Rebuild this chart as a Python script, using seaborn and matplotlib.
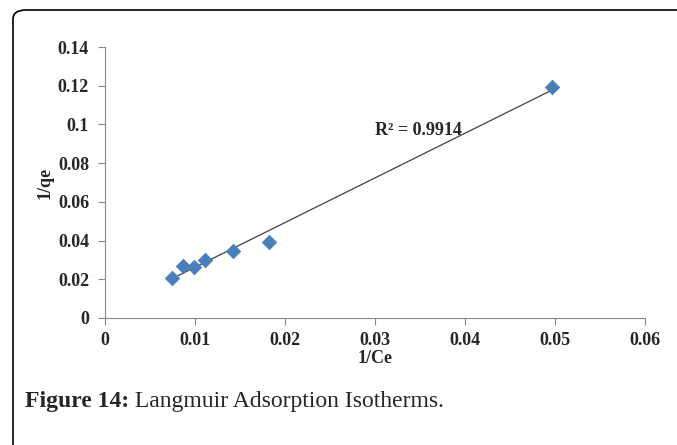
import numpy as np
import pandas as pd
import seaborn as sns
import matplotlib
matplotlib.use("Agg")
import matplotlib.pyplot as plt
from matplotlib.patches import FancyBboxPatch

inv_ce = [0.00744, 0.00867, 0.00989, 0.0111, 0.0142, 0.0182, 0.0497]
inv_qe = [0.0207, 0.0269, 0.0263, 0.0300, 0.0346, 0.0393, 0.1193]
x_ticks = [0, 0.01, 0.02, 0.03, 0.04, 0.05, 0.06]
x_tick_labels = ["0", "0.01", "0.02", "0.03", "0.04", "0.05", "0.06"]
y_ticks = [0, 0.02, 0.04, 0.06, 0.08, 0.1, 0.12, 0.14]
y_tick_labels = ["0", "0.02", "0.04", "0.06", "0.08", "0.1", "0.12", "0.14"]
r2_text = "R² = 0.9914"
caption_bold = "Figure 14:"
caption_rest = " Langmuir Adsorption Isotherms."

df = pd.DataFrame({"x": inv_ce, "y": inv_qe})

sns.set_theme(style="white")
plt.rcParams["font.family"] = ["Liberation Serif", "DejaVu Serif"]

fig = plt.figure(figsize=(6.77, 4.45), dpi=100)
ax = fig.add_axes([105 / 677, 1 - 318 / 445, 540 / 677, 271 / 445])

sns.regplot(data=df, x="x", y="y", scatter=False, ci=None, truncate=True,
            line_kws={"color": "#404040", "lw": 0.9}, ax=ax)
sns.scatterplot(data=df, x="x", y="y", marker="D", s=55, color="#4a7ebb",
                edgecolor="#4a7ebb", linewidth=0.5, zorder=3, ax=ax)

fs = 13
ax.set_xlim(0, 0.06)
ax.set_ylim(0, 0.14)
ax.set_xticks(x_ticks)
ax.set_xticklabels(x_tick_labels, fontweight="bold", fontsize=fs)
ax.set_yticks(y_ticks)
ax.set_yticklabels(y_tick_labels, fontweight="bold", fontsize=fs)
ax.tick_params(axis="both", which="both", length=5, width=0.8, color="#888888",
               direction="out", bottom=True, left=True)
ax.tick_params(axis="y", pad=6.5)
ax.tick_params(axis="x", pad=5)
for s in ["top", "right"]:
    ax.spines[s].set_visible(False)
for s in ["left", "bottom"]:
    ax.spines[s].set_color("#888888")
    ax.spines[s].set_linewidth(0.8)

ax.set_xlabel("1/Ce", fontweight="bold", fontsize=fs, labelpad=0.5)
ax.set_ylabel("1/qe", fontweight="bold", fontsize=fs, labelpad=3)

ax.text(0.03, 0.097, r2_text, fontweight="bold", fontsize=fs, ha="left",
        va="center")

# outer rounded frame
frame = FancyBboxPatch((13 / 677, -0.2), 1.2, 1 - 10 / 445 + 0.2,
                       boxstyle="round,pad=0,rounding_size=0.02",
                       transform=fig.transFigure, fill=False,
                       edgecolor="black", linewidth=1.2, clip_on=False)
fig.add_artist(frame)

cap_fs = 17
t1 = fig.text(25 / 677, 1 - 407 / 445, caption_bold, fontsize=cap_fs,
              fontweight="bold", ha="left", va="baseline")
fig.canvas.draw()
bb = t1.get_window_extent()
fig.text(bb.x1 / fig.bbox.width, 1 - 407 / 445, caption_rest, fontsize=cap_fs,
         ha="left", va="baseline")

fig.savefig("out.png", dpi=100)
